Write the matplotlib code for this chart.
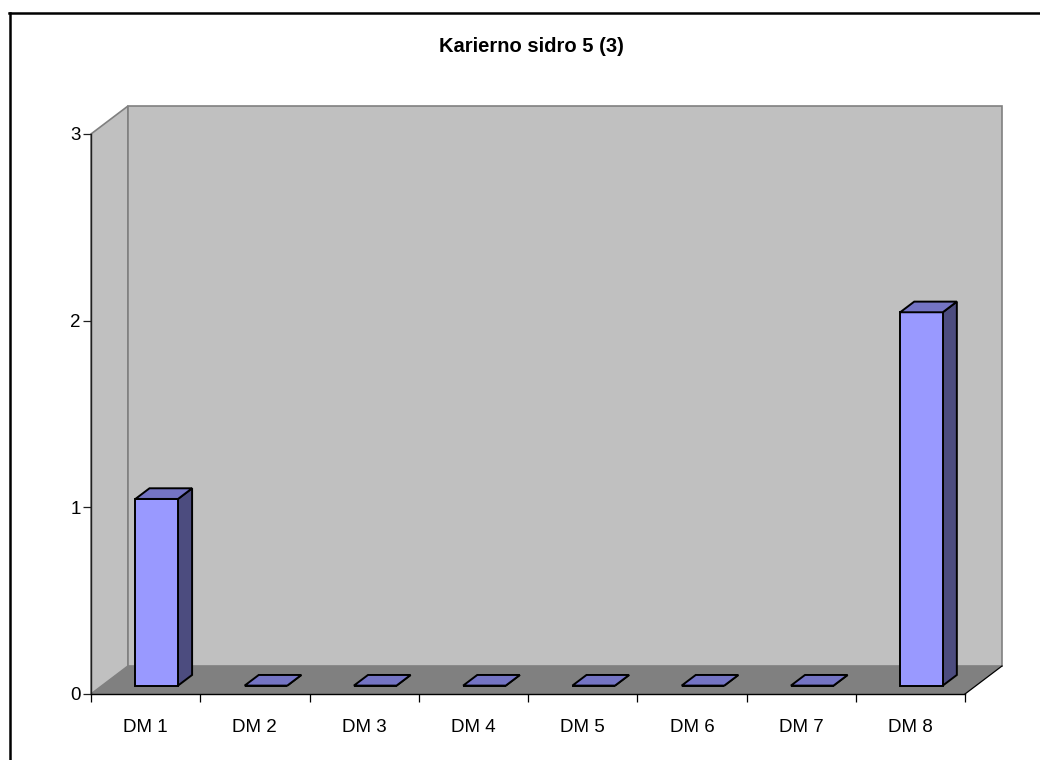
import matplotlib
matplotlib.use("Agg")
import matplotlib.pyplot as plt
from matplotlib.patches import Polygon
from matplotlib.lines import Line2D

plt.rcParams['font.family'] = ['Liberation Sans', 'DejaVu Sans']

# Data
title = "Karierno sidro 5 (3)"
categories = ["DM 1", "DM 2", "DM 3", "DM 4", "DM 5", "DM 6", "DM 7", "DM 8"]
values = [1, 0, 0, 0, 0, 0, 0, 2]
y_ticks = [0, 1, 2, 3]

# Colours
WALL = "#C0C0C0"
FLOOR = "#808080"
WALL_EDGE = "#808080"
BAR_FRONT = "#9999FF"
BAR_TOP = "#7474C4"
BAR_SIDE = "#4C4C7F"

W, H = 1040, 760
fig = plt.figure(figsize=(W / 100, H / 100), dpi=100)
fig.patch.set_facecolor("white")

# Front plane of the 3-D plot box (pixel extents converted to figure fractions)
left_px, right_px, top_px, bottom_px = 91, 965, 134, 694
ax = fig.add_axes([left_px / W, 1 - bottom_px / H,
                   (right_px - left_px) / W, (bottom_px - top_px) / H])
n = len(categories)
ymax = max(y_ticks)
ax.set_xlim(0, n)
ax.set_ylim(0, ymax)
ax.set_facecolor("none")

# Depth vector of the box, in data units
DX = 37 / ((right_px - left_px) / n)
DY = 28 / ((bottom_px - top_px) / ymax)


def proj(x, y, z):
    return (x + z * DX, y + z * DY)


def poly(pts, fc, ec, lw, zorder):
    ax.add_patch(Polygon(pts, closed=True, facecolor=fc, edgecolor=ec,
                         linewidth=lw, zorder=zorder, clip_on=False,
                         joinstyle="miter"))


# Side wall, back wall, floor
poly([proj(0, 0, 0), proj(0, ymax, 0), proj(0, ymax, 1), proj(0, 0, 1)],
     WALL, WALL_EDGE, 1.2, 1)
poly([proj(0, 0, 1), proj(0, ymax, 1), proj(n, ymax, 1), proj(n, 0, 1)],
     WALL, WALL_EDGE, 1.2, 1)
poly([proj(0, 0, 0), proj(n, 0, 0), proj(n, 0, 1), proj(0, 0, 1)],
     FLOOR, "none", 0, 1.1)
ax.add_line(Line2D(*zip(proj(n, 0, 0), proj(n, 0, 1)), color="black",
                   lw=0.9, zorder=1.2, clip_on=False))

# Columns
bar_w = 0.39
z0, z1 = 0.30, 0.68
for i, v in enumerate(values):
    xa = i + 0.5 - bar_w / 2
    xb = i + 0.5 + bar_w / 2
    front = [proj(xa, 0, z0), proj(xb, 0, z0), proj(xb, v, z0), proj(xa, v, z0)]
    side = [proj(xb, 0, z0), proj(xb, 0, z1), proj(xb, v, z1), proj(xb, v, z0)]
    top = [proj(xa, v, z0), proj(xb, v, z0), proj(xb, v, z1), proj(xa, v, z1)]
    poly(side, BAR_SIDE, "black", 1.4, 3)
    poly(front, BAR_FRONT, "black", 1.4, 3)
    poly(top, BAR_TOP, "black", 1.4, 3)

# Axes lines and ticks
for s in ["top", "right"]:
    ax.spines[s].set_visible(False)
ax.spines["left"].set_color("#202020")
ax.spines["bottom"].set_color("black")
ax.spines["left"].set_linewidth(1.0)
ax.spines["bottom"].set_linewidth(1.0)
ax.spines["left"].set_zorder(2)
ax.spines["bottom"].set_zorder(2)

ax.set_yticks(y_ticks)
ax.set_yticklabels([str(t) for t in y_ticks])
ax.tick_params(axis="y", direction="out", length=5.5, width=0.9,
               color="#202020", labelsize=13.5, pad=2)

ax.set_xticks(range(n + 1))
ax.set_xticklabels([])
ax.set_xticks([i + 0.5 for i in range(n)], minor=True)
ax.set_xticklabels(categories, minor=True)
ax.tick_params(axis="x", which="major", direction="out", length=6, width=0.9,
               color="black")
ax.tick_params(axis="x", which="minor", length=0, labelsize=13.5, pad=18)

# Title
fig.text(531 / W, 1 - 47 / H, title, ha="center", va="center",
         fontsize=14.5, fontweight="bold")

# Chart-area frame
fig.add_artist(Line2D([9.5 / W, 9.5 / W], [0, 1 - 12.5 / H],
                      transform=fig.transFigure, color="black", lw=1.8))
fig.add_artist(Line2D([8.6 / W, 1], [1 - 12.5 / H, 1 - 12.5 / H],
                      transform=fig.transFigure, color="black", lw=1.8))

fig.savefig("out.png", dpi=100)
